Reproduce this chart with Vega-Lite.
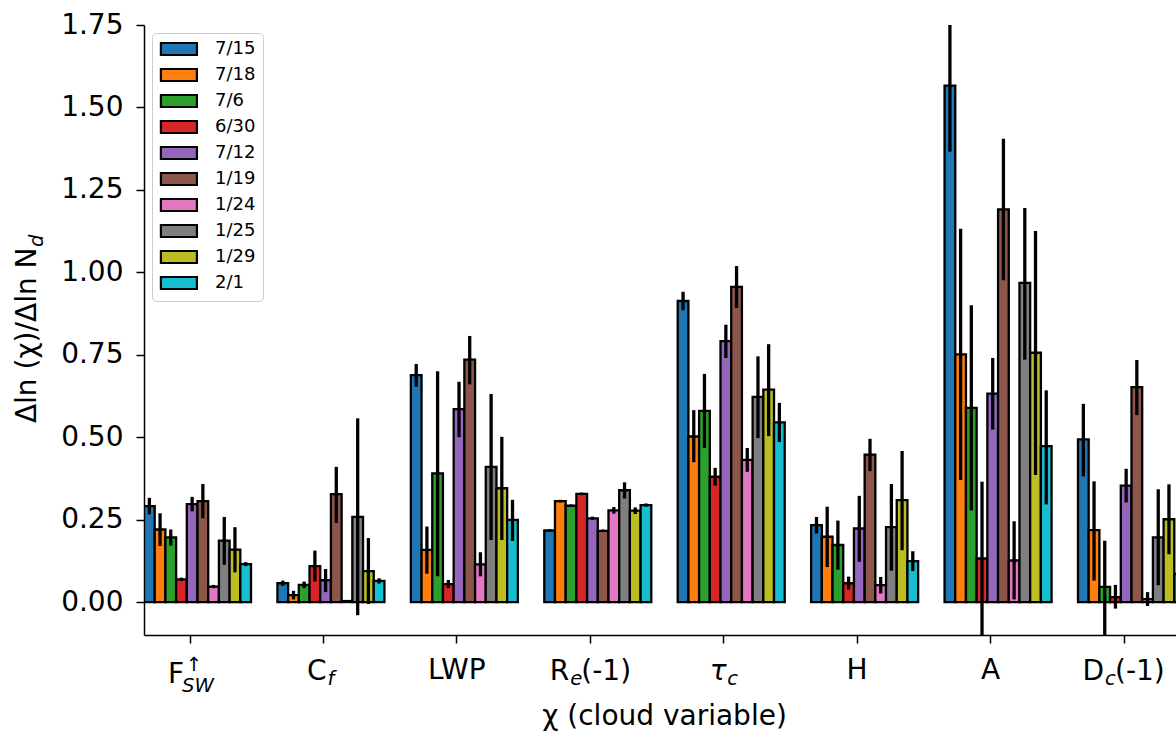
{
  "$schema": "https://vega.github.io/schema/vega-lite/v6.json",
  "width": 1032,
  "height": 610,
  "autosize": {"type": "none"},
  "padding": {"left": 144, "top": 25, "right": 0, "bottom": 99},
  "config": {
    "font": "DejaVu Sans",
    "view": {"stroke": null},
    "axis": {"labelFont": "DejaVu Sans", "titleFont": "DejaVu Sans"},
    "legend": {"labelFont": "DejaVu Sans"},
    "text": {"font": "DejaVu Sans", "color": "black"}
  },
  "datasets": {
    "bars": [
      {"cat": "F_SW", "date": "7/15", "v": 0.291, "lo": 0.266, "hi": 0.316},
      {"cat": "F_SW", "date": "7/18", "v": 0.220, "lo": 0.170, "hi": 0.269},
      {"cat": "F_SW", "date": "7/6", "v": 0.196, "lo": 0.171, "hi": 0.220},
      {"cat": "F_SW", "date": "6/30", "v": 0.069, "lo": 0.064, "hi": 0.074},
      {"cat": "F_SW", "date": "7/12", "v": 0.297, "lo": 0.275, "hi": 0.319},
      {"cat": "F_SW", "date": "1/19", "v": 0.306, "lo": 0.254, "hi": 0.358},
      {"cat": "F_SW", "date": "1/24", "v": 0.047, "lo": 0.042, "hi": 0.052},
      {"cat": "F_SW", "date": "1/25", "v": 0.186, "lo": 0.113, "hi": 0.258},
      {"cat": "F_SW", "date": "1/29", "v": 0.159, "lo": 0.090, "hi": 0.227},
      {"cat": "F_SW", "date": "2/1", "v": 0.115, "lo": 0.109, "hi": 0.121},
      {"cat": "C_f", "date": "7/15", "v": 0.057, "lo": 0.049, "hi": 0.065},
      {"cat": "C_f", "date": "7/18", "v": 0.021, "lo": 0.008, "hi": 0.034},
      {"cat": "C_f", "date": "7/6", "v": 0.052, "lo": 0.042, "hi": 0.062},
      {"cat": "C_f", "date": "6/30", "v": 0.109, "lo": 0.062, "hi": 0.156},
      {"cat": "C_f", "date": "7/12", "v": 0.066, "lo": 0.030, "hi": 0.100},
      {"cat": "C_f", "date": "1/19", "v": 0.327, "lo": 0.240, "hi": 0.410},
      {"cat": "C_f", "date": "1/24", "v": 0.003, "lo": 0.000, "hi": 0.006},
      {"cat": "C_f", "date": "1/25", "v": 0.258, "lo": -0.040, "hi": 0.557},
      {"cat": "C_f", "date": "1/29", "v": 0.094, "lo": -0.006, "hi": 0.194},
      {"cat": "C_f", "date": "2/1", "v": 0.064, "lo": 0.056, "hi": 0.072},
      {"cat": "LWP", "date": "7/15", "v": 0.688, "lo": 0.653, "hi": 0.722},
      {"cat": "LWP", "date": "7/18", "v": 0.158, "lo": 0.086, "hi": 0.229},
      {"cat": "LWP", "date": "7/6", "v": 0.390, "lo": 0.078, "hi": 0.700},
      {"cat": "LWP", "date": "6/30", "v": 0.054, "lo": 0.042, "hi": 0.067},
      {"cat": "LWP", "date": "7/12", "v": 0.585, "lo": 0.500, "hi": 0.668},
      {"cat": "LWP", "date": "1/19", "v": 0.735, "lo": 0.660, "hi": 0.807},
      {"cat": "LWP", "date": "1/24", "v": 0.114, "lo": 0.078, "hi": 0.151},
      {"cat": "LWP", "date": "1/25", "v": 0.410, "lo": 0.188, "hi": 0.631},
      {"cat": "LWP", "date": "1/29", "v": 0.345, "lo": 0.188, "hi": 0.501},
      {"cat": "LWP", "date": "2/1", "v": 0.249, "lo": 0.185, "hi": 0.310},
      {"cat": "R_e(-1)", "date": "7/15", "v": 0.217, "lo": 0.213, "hi": 0.221},
      {"cat": "R_e(-1)", "date": "7/18", "v": 0.306, "lo": 0.302, "hi": 0.310},
      {"cat": "R_e(-1)", "date": "7/6", "v": 0.292, "lo": 0.288, "hi": 0.296},
      {"cat": "R_e(-1)", "date": "6/30", "v": 0.328, "lo": 0.324, "hi": 0.332},
      {"cat": "R_e(-1)", "date": "7/12", "v": 0.254, "lo": 0.249, "hi": 0.259},
      {"cat": "R_e(-1)", "date": "1/19", "v": 0.216, "lo": 0.212, "hi": 0.220},
      {"cat": "R_e(-1)", "date": "1/24", "v": 0.278, "lo": 0.268, "hi": 0.288},
      {"cat": "R_e(-1)", "date": "1/25", "v": 0.339, "lo": 0.314, "hi": 0.363},
      {"cat": "R_e(-1)", "date": "1/29", "v": 0.277, "lo": 0.267, "hi": 0.287},
      {"cat": "R_e(-1)", "date": "2/1", "v": 0.294, "lo": 0.289, "hi": 0.299},
      {"cat": "τ_c", "date": "7/15", "v": 0.913, "lo": 0.885, "hi": 0.941},
      {"cat": "τ_c", "date": "7/18", "v": 0.502, "lo": 0.424, "hi": 0.582},
      {"cat": "τ_c", "date": "7/6", "v": 0.580, "lo": 0.467, "hi": 0.692},
      {"cat": "τ_c", "date": "6/30", "v": 0.380, "lo": 0.353, "hi": 0.407},
      {"cat": "τ_c", "date": "7/12", "v": 0.791, "lo": 0.740, "hi": 0.841},
      {"cat": "τ_c", "date": "1/19", "v": 0.956, "lo": 0.892, "hi": 1.019},
      {"cat": "τ_c", "date": "1/24", "v": 0.431, "lo": 0.395, "hi": 0.467},
      {"cat": "τ_c", "date": "1/25", "v": 0.622, "lo": 0.497, "hi": 0.745},
      {"cat": "τ_c", "date": "1/29", "v": 0.644, "lo": 0.503, "hi": 0.782},
      {"cat": "τ_c", "date": "2/1", "v": 0.545, "lo": 0.485, "hi": 0.604},
      {"cat": "H", "date": "7/15", "v": 0.233, "lo": 0.208, "hi": 0.258},
      {"cat": "H", "date": "7/18", "v": 0.198, "lo": 0.106, "hi": 0.289},
      {"cat": "H", "date": "7/6", "v": 0.173, "lo": 0.098, "hi": 0.247},
      {"cat": "H", "date": "6/30", "v": 0.057, "lo": 0.038, "hi": 0.077},
      {"cat": "H", "date": "7/12", "v": 0.223, "lo": 0.122, "hi": 0.322},
      {"cat": "H", "date": "1/19", "v": 0.447, "lo": 0.397, "hi": 0.495},
      {"cat": "H", "date": "1/24", "v": 0.051, "lo": 0.026, "hi": 0.076},
      {"cat": "H", "date": "1/25", "v": 0.227, "lo": 0.095, "hi": 0.358},
      {"cat": "H", "date": "1/29", "v": 0.309, "lo": 0.157, "hi": 0.458},
      {"cat": "H", "date": "2/1", "v": 0.124, "lo": 0.094, "hi": 0.154},
      {"cat": "A", "date": "7/15", "v": 1.566, "lo": 1.366, "hi": 1.766},
      {"cat": "A", "date": "7/18", "v": 0.751, "lo": 0.370, "hi": 1.132},
      {"cat": "A", "date": "7/6", "v": 0.589, "lo": 0.278, "hi": 0.900},
      {"cat": "A", "date": "6/30", "v": 0.132, "lo": -0.105, "hi": 0.365},
      {"cat": "A", "date": "7/12", "v": 0.632, "lo": 0.523, "hi": 0.740},
      {"cat": "A", "date": "1/19", "v": 1.191, "lo": 0.976, "hi": 1.405},
      {"cat": "A", "date": "1/24", "v": 0.126, "lo": 0.008, "hi": 0.245},
      {"cat": "A", "date": "1/25", "v": 0.968, "lo": 0.735, "hi": 1.195},
      {"cat": "A", "date": "1/29", "v": 0.756, "lo": 0.385, "hi": 1.125},
      {"cat": "A", "date": "2/1", "v": 0.473, "lo": 0.296, "hi": 0.642},
      {"cat": "D_c(-1)", "date": "7/15", "v": 0.493, "lo": 0.381, "hi": 0.601},
      {"cat": "D_c(-1)", "date": "7/18", "v": 0.218, "lo": 0.065, "hi": 0.366},
      {"cat": "D_c(-1)", "date": "7/6", "v": 0.046, "lo": -0.105, "hi": 0.186},
      {"cat": "D_c(-1)", "date": "6/30", "v": 0.015, "lo": -0.020, "hi": 0.052},
      {"cat": "D_c(-1)", "date": "7/12", "v": 0.353, "lo": 0.302, "hi": 0.404},
      {"cat": "D_c(-1)", "date": "1/19", "v": 0.652, "lo": 0.567, "hi": 0.734},
      {"cat": "D_c(-1)", "date": "1/24", "v": 0.009, "lo": -0.012, "hi": 0.030},
      {"cat": "D_c(-1)", "date": "1/25", "v": 0.196, "lo": 0.051, "hi": 0.342},
      {"cat": "D_c(-1)", "date": "1/29", "v": 0.251, "lo": 0.145, "hi": 0.357},
      {"cat": "D_c(-1)", "date": "2/1", "v": 0.085, "lo": 0.035, "hi": 0.135}
    ]
  },
  "layer": [
    {
      "data": {"name": "bars"},
      "mark": {"type": "bar", "stroke": "black", "strokeWidth": 2.3, "clip": true},
      "encoding": {
        "x": {
          "field": "cat", "type": "nominal",
          "scale": {"domain": ["F_SW", "C_f", "LWP", "R_e(-1)", "τ_c", "H", "A", "D_c(-1)"], "range": [0, 1041], "paddingInner": 0.198, "paddingOuter": 0},
          "axis": {"labels": false, "ticks": true, "tickSize": 8, "tickColor": "black", "tickWidth": 1.5, "domainColor": "black", "domainWidth": 1.5, "bandPosition": 0.43, "title": "χ (cloud variable)", "titleFontSize": 28, "titleFontWeight": "normal", "titleColor": "black", "titleX": 520, "titleY": 89, "titleBaseline": "alphabetic", "titleAlign": "center"}
        },
        "xOffset": {"field": "date", "type": "nominal", "sort": ["7/15", "7/18", "7/6", "6/30", "7/12", "1/19", "1/24", "1/25", "1/29", "2/1"], "scale": {"paddingInner": 0, "paddingOuter": 0}},
        "y": {
          "field": "v", "type": "quantitative",
          "scale": {"domain": [-0.1, 1.75], "nice": false, "zero": false},
          "axis": {"values": [0, 0.25, 0.5, 0.75, 1, 1.25, 1.5, 1.75], "format": ".2f", "labelFontSize": 28, "labelColor": "black", "labelPadding": 13, "tickColor": "black", "tickSize": 8, "tickWidth": 1.5, "domainColor": "black", "domainWidth": 1.5, "grid": false, "title": "Δln (χ)/Δln N", "titleFontSize": 28, "titleFontWeight": "normal", "titleColor": "black", "titleAngle": 270, "titleAlign": "right", "titleBaseline": "alphabetic", "titleX": -109, "titleY": 222}
        },
        "color": {
          "field": "date", "type": "nominal",
          "scale": {"domain": ["7/15", "7/18", "7/6", "6/30", "7/12", "1/19", "1/24", "1/25", "1/29", "2/1"], "range": ["#1f77b4", "#ff7f0e", "#2ca02c", "#d62728", "#9467bd", "#8c564b", "#e377c2", "#7f7f7f", "#bcbd22", "#17becf"]},
          "legend": {"orient": "none", "legendX": 8, "legendY": 8, "title": null, "symbolType": "M-1.18,-1H4.82V1H-1.18Z", "symbolSize": 144, "symbolStrokeColor": "black", "symbolStrokeWidth": 2.2, "symbolOpacity": 1, "labelFontSize": 18, "labelColor": "black", "labelOffset": 38, "rowPadding": 4, "padding": 7, "strokeColor": "#cccccc", "fillColor": "rgba(255,255,255,0.8)", "cornerRadius": 4}
        }
      }
    },
    {
      "data": {"name": "bars"},
      "mark": {"type": "rule", "color": "black", "strokeWidth": 3.3, "clip": true},
      "encoding": {
        "x": {"field": "cat", "type": "nominal"},
        "xOffset": {"field": "date", "type": "nominal", "sort": ["7/15", "7/18", "7/6", "6/30", "7/12", "1/19", "1/24", "1/25", "1/29", "2/1"]},
        "y": {"field": "lo", "type": "quantitative"},
        "y2": {"field": "hi"}
      }
    },
    {"mark": {"type": "rule", "color": "black", "strokeWidth": 2.8}, "encoding": {"y": {"datum": 0}}},
    {"mark": {"type": "rule", "color": "black", "strokeWidth": 1.5}, "encoding": {"y": {"datum": 1.75}}},
    {
      "data": {"values": [{"cat": "LWP", "t": "LWP"}, {"cat": "H", "t": "H"}, {"cat": "A", "t": "A"}]},
      "mark": {"type": "text", "align": "center", "baseline": "alphabetic", "dy": 44, "fontSize": 28},
      "encoding": {"x": {"field": "cat", "type": "nominal", "bandPosition": 0.43}, "y": {"datum": -0.1}, "text": {"field": "t"}}
    },
    {
      "data": {"values": [{"cat": "F_SW", "t": "F"}]},
      "mark": {"type": "text", "align": "right", "baseline": "alphabetic", "dx": -6, "dy": 48, "fontSize": 28},
      "encoding": {"x": {"field": "cat", "type": "nominal", "bandPosition": 0.43}, "y": {"datum": -0.1}, "text": {"field": "t"}}
    },
    {
      "data": {"values": [{"cat": "F_SW", "t": "SW"}]},
      "mark": {"type": "text", "align": "left", "baseline": "alphabetic", "dx": -8, "dy": 57, "fontSize": 19.6, "fontStyle": "italic"},
      "encoding": {"x": {"field": "cat", "type": "nominal", "bandPosition": 0.43}, "y": {"datum": -0.1}, "text": {"field": "t"}}
    },
    {
      "data": {"values": [{"cat": "F_SW", "t": "↑"}]},
      "mark": {"type": "text", "align": "center", "baseline": "alphabetic", "dx": 4, "dy": 36, "fontSize": 19.6},
      "encoding": {"x": {"field": "cat", "type": "nominal", "bandPosition": 0.43}, "y": {"datum": -0.1}, "text": {"field": "t"}}
    },
    {
      "data": {"values": [{"cat": "C_f", "t": "C"}]},
      "mark": {"type": "text", "align": "right", "baseline": "alphabetic", "dx": 3, "dy": 45, "fontSize": 28},
      "encoding": {"x": {"field": "cat", "type": "nominal", "bandPosition": 0.43}, "y": {"datum": -0.1}, "text": {"field": "t"}}
    },
    {
      "data": {"values": [{"cat": "C_f", "t": "f"}]},
      "mark": {"type": "text", "align": "left", "baseline": "alphabetic", "dx": 4, "dy": 50, "fontSize": 19.6, "fontStyle": "italic"},
      "encoding": {"x": {"field": "cat", "type": "nominal", "bandPosition": 0.43}, "y": {"datum": -0.1}, "text": {"field": "t"}}
    },
    {
      "data": {"values": [{"cat": "R_e(-1)", "t": "R"}]},
      "mark": {"type": "text", "align": "right", "baseline": "alphabetic", "dx": -21, "dy": 45, "fontSize": 28},
      "encoding": {"x": {"field": "cat", "type": "nominal", "bandPosition": 0.43}, "y": {"datum": -0.1}, "text": {"field": "t"}}
    },
    {
      "data": {"values": [{"cat": "R_e(-1)", "t": "e"}]},
      "mark": {"type": "text", "align": "left", "baseline": "alphabetic", "dx": -20, "dy": 50, "fontSize": 19.6, "fontStyle": "italic"},
      "encoding": {"x": {"field": "cat", "type": "nominal", "bandPosition": 0.43}, "y": {"datum": -0.1}, "text": {"field": "t"}}
    },
    {
      "data": {"values": [{"cat": "R_e(-1)", "t": "(-1)"}, {"cat": "D_c(-1)", "t": "(-1)"}]},
      "mark": {"type": "text", "align": "left", "baseline": "alphabetic", "dx": -9, "dy": 45, "fontSize": 28},
      "encoding": {"x": {"field": "cat", "type": "nominal", "bandPosition": 0.43}, "y": {"datum": -0.1}, "text": {"field": "t"}}
    },
    {
      "data": {"values": [{"cat": "τ_c", "t": "τ"}]},
      "mark": {"type": "text", "align": "right", "baseline": "alphabetic", "dx": 3, "dy": 45, "fontSize": 28, "fontStyle": "italic"},
      "encoding": {"x": {"field": "cat", "type": "nominal", "bandPosition": 0.43}, "y": {"datum": -0.1}, "text": {"field": "t"}}
    },
    {
      "data": {"values": [{"cat": "τ_c", "t": "c"}]},
      "mark": {"type": "text", "align": "left", "baseline": "alphabetic", "dx": 3.5, "dy": 50, "fontSize": 19.6, "fontStyle": "italic"},
      "encoding": {"x": {"field": "cat", "type": "nominal", "bandPosition": 0.43}, "y": {"datum": -0.1}, "text": {"field": "t"}}
    },
    {
      "data": {"values": [{"cat": "D_c(-1)", "t": "D"}]},
      "mark": {"type": "text", "align": "right", "baseline": "alphabetic", "dx": -20, "dy": 45, "fontSize": 28},
      "encoding": {"x": {"field": "cat", "type": "nominal", "bandPosition": 0.43}, "y": {"datum": -0.1}, "text": {"field": "t"}}
    },
    {
      "data": {"values": [{"cat": "D_c(-1)", "t": "c"}]},
      "mark": {"type": "text", "align": "left", "baseline": "alphabetic", "dx": -19, "dy": 50, "fontSize": 19.6, "fontStyle": "italic"},
      "encoding": {"x": {"field": "cat", "type": "nominal", "bandPosition": 0.43}, "y": {"datum": -0.1}, "text": {"field": "t"}}
    },
    {
      "data": {"values": [{"t": "d"}]},
      "mark": {"type": "text", "angle": 270, "align": "left", "baseline": "alphabetic", "dx": 0, "dy": -101, "fontSize": 19.6, "fontStyle": "italic"},
      "encoding": {"x": {"datum": "F_SW", "bandPosition": 0}, "y": {"datum": 1.077}, "text": {"field": "t"}}
    }
  ]
}
